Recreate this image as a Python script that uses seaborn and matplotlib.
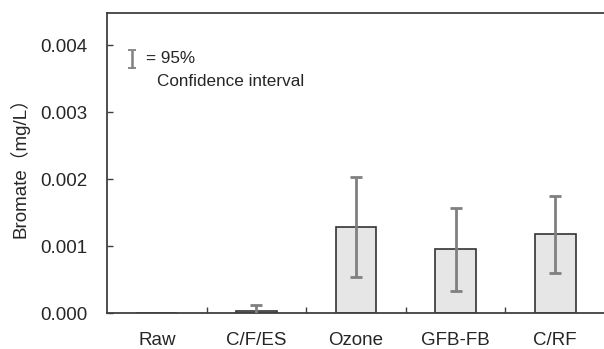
import matplotlib
matplotlib.use("Agg")
import matplotlib.pyplot as plt
import seaborn as sns
import numpy as np
import pandas as pd
from matplotlib.ticker import FixedLocator, NullFormatter

categories = ["Raw", "C/F/ES", "Ozone", "GFB-FB", "C/RF"]
means = [0.0, 0.00003, 0.00129, 0.00095, 0.00118]
ci_low = [0.0, -0.00005, 0.00054, 0.00033, 0.00060]
ci_high = [0.0, 0.000124, 0.00203, 0.00157, 0.00175]
yticks = [0.000, 0.001, 0.002, 0.003, 0.004]

sns.set_theme(style="white")
plt.rcParams['font.family'] = ['Liberation Sans', 'Noto Sans CJK JP', 'DejaVu Sans']

df = pd.DataFrame({"cat": categories, "val": means})

fig = plt.figure(figsize=(6.04, 3.49), dpi=100)
ax = fig.add_axes([107/604, 36/349, 498/604, 300/349])

sns.barplot(data=df, x="cat", y="val", ax=ax, color="#e6e6e6", width=0.41,
            edgecolor="#333333", linewidth=1.2, errorbar=None, saturation=1)

x = np.arange(len(categories))
m = np.array(means)
lo = m - np.array(ci_low)
hi = np.array(ci_high) - m
mask = np.array([c > 0 for c in ci_high])
ax.errorbar(x[mask], m[mask], yerr=[lo[mask], hi[mask]], fmt="none",
            ecolor="#808080", elinewidth=2.0, capsize=4.5, capthick=2.0, zorder=5)

ax.set_ylim(0, 0.00448)
ax.set_xlim(-0.5, 4.5)
ax.set_yticks(yticks)
ax.set_yticklabels([f"{v:.3f}" for v in yticks])
ax.set_xlabel("")
ax.set_ylabel("Bromate（mg/L）", fontsize=13.5, labelpad=8)

ax.tick_params(axis="y", direction="in", length=4.5, width=1, color="#404040",
               labelsize=13.5, pad=14, left=True)
ax.tick_params(axis="x", which="major", length=0, labelsize=13.5, pad=14)
ax.xaxis.set_minor_locator(FixedLocator([0.5, 1.5, 2.5, 3.5]))
ax.xaxis.set_minor_formatter(NullFormatter())
ax.tick_params(axis="x", which="minor", direction="in", length=4, width=1,
               color="#404040", bottom=True)

for s in ax.spines.values():
    s.set_color("#404040")
    s.set_linewidth(1.3)

# legend-like annotation
ax.errorbar([0.050], [0.847], yerr=[[0.03], [0.03]], fmt="none", ecolor="#808080",
            elinewidth=1.8, capsize=3, capthick=1.3, transform=ax.transAxes, clip_on=False)
ax.text(0.078, 0.847, "= 95%", transform=ax.transAxes, fontsize=12.3, va="center", ha="left")
ax.text(0.100, 0.770, "Confidence interval", transform=ax.transAxes, fontsize=12.3,
        va="center", ha="left")

fig.savefig("out.png", dpi=100)
